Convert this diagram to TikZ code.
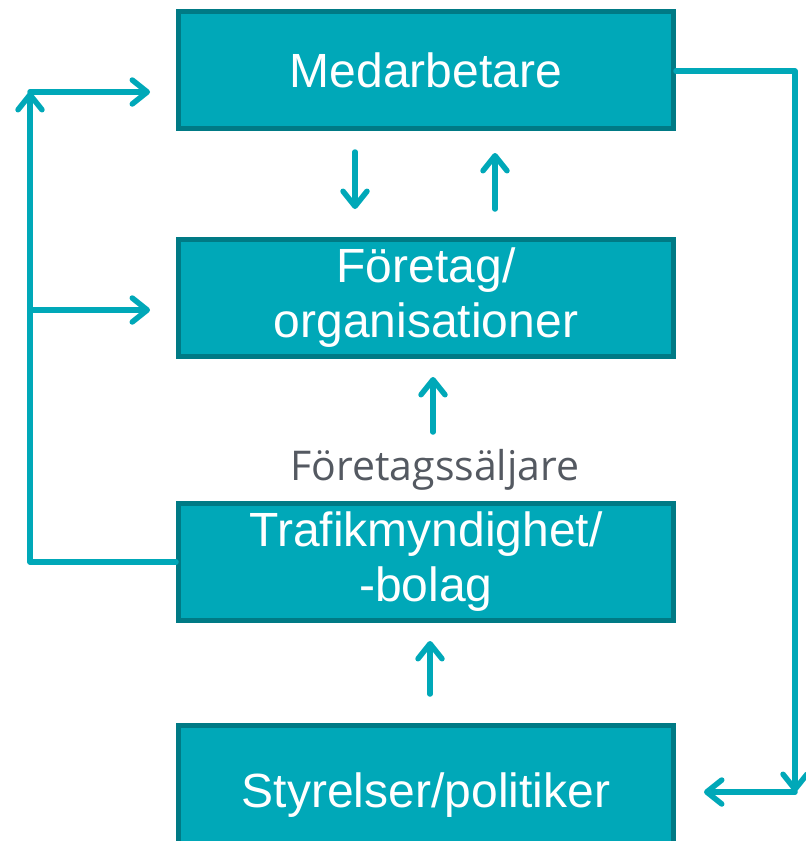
\documentclass[tikz,border=0pt]{standalone}
\usepackage{fontspec}
\newfontfamily\boxfont{Liberation Sans}
\newfontfamily\labfont{Open Sans}
\usetikzlibrary{arrows.meta}
\definecolor{tealfill}{RGB}{0,168,184}
\definecolor{tealedge}{RGB}{0,122,133}
\definecolor{labgray}{RGB}{84,89,97}
\tikzset{
  orgbox/.style={draw=tealedge, fill=tealfill, line width=5pt, minimum width=495pt,
    minimum height=117pt, inner sep=0pt, text=white, align=center,
    font=\boxfont\fontsize{48}{55}\selectfont},
  conn/.style={draw=tealfill, line width=5.5pt, line cap=round, line join=round},
  arr/.style={conn, -{Straight Barb[length=15pt,width=24pt,line cap=round,line join=round]}},
}
\begin{document}
\begin{tikzpicture}[x=1pt,y=-1pt]
\useasboundingbox (0,0) rectangle (806,841);
\begin{scope}
\clip (0,0) rectangle (806,841);
\node[orgbox] (M) at (426,70) {Medarbetare};
\node[orgbox] (F) at (426,297.5) {Företag/\\organisationer};
\node[orgbox] (T) at (426,562) {Trafikmyndighet/\\-bolag};
\node[orgbox, minimum height=140pt] (S) at (426,795.5) {\raisebox{11pt}{Styrelser/politiker}};
\end{scope}
\node[font=\labfont\fontsize{41}{48}\selectfont, text=labgray, inner sep=0pt, anchor=base] (L) at (435,480) {Företagssäljare};
% left loop
\coordinate (lc) at (30,92);
\coordinate (lm) at (30,310);
\coordinate (mtip) at (150,92);
\coordinate (ftip) at (150,310);
\draw[arr] (T.west) -| (lc);
\draw[arr] (lc) -- (mtip);
\draw[arr] (lm) -- (ftip);
% right loop
\coordinate (rc) at (795,792);
\coordinate (stip) at (704,792);
\draw[arr] (M.east |- 0,71) -| (rc);
\draw[arr] (rc) -- (stip);
% middle arrows
\coordinate (d1) at (355,152); \coordinate (d2) at (355,209);
\coordinate (u1) at (495,209); \coordinate (u2) at (495,153);
\draw[arr] (d1) -- (d2);
\draw[arr] (u1) -- (u2);
\coordinate (a1) at (433,432); \coordinate (a2) at (433,377);
\draw[arr] (a1) -- (a2);
\coordinate (b1) at (430,694); \coordinate (b2) at (430,641);
\draw[arr] (b1) -- (b2);
\end{tikzpicture}
\end{document}
